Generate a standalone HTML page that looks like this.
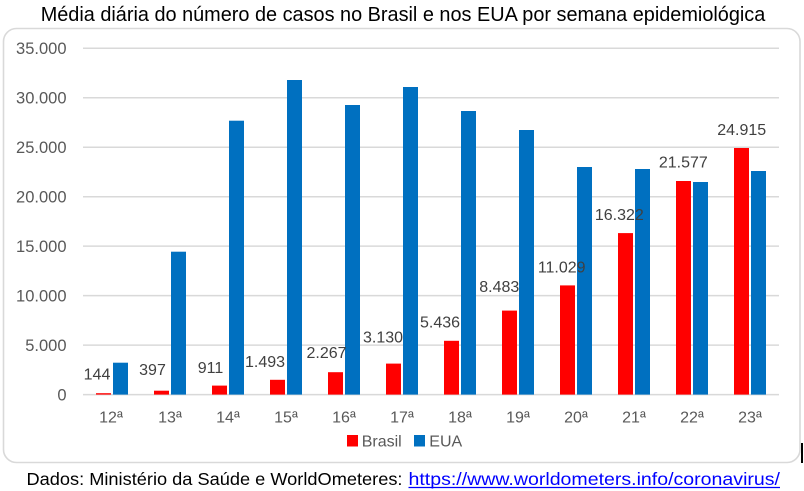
<!DOCTYPE html>
<html>
<head>
<meta charset="utf-8">
<style>
html,body{margin:0;padding:0;background:#fff;}
svg{display:block;}
text{font-family:"Liberation Sans",Arial,sans-serif;}
</style>
</head>
<body>
<svg width="804" height="491" viewBox="0 0 804 491" xmlns="http://www.w3.org/2000/svg">
<rect x="0" y="0" width="804" height="491" fill="#fff"/>
<!-- title -->
<text x="40.7" y="21" font-size="20" fill="#000" textLength="724.6" lengthAdjust="spacingAndGlyphs">Média diária do número de casos no Brasil e nos EUA por semana epidemiológica</text>
<!-- chart border -->
<rect x="3.5" y="28.5" width="796.5" height="434" rx="13" ry="13" fill="#fff" stroke="#d9d9d9" stroke-width="1.6"/>
<!-- gridlines -->
<g stroke="#d9d9d9" stroke-width="1.5">
<line x1="83" x2="779" y1="48.2" y2="48.2"/>
<line x1="83" x2="779" y1="97.7" y2="97.7"/>
<line x1="83" x2="779" y1="147.2" y2="147.2"/>
<line x1="83" x2="779" y1="196.7" y2="196.7"/>
<line x1="83" x2="779" y1="246.1" y2="246.1"/>
<line x1="83" x2="779" y1="295.6" y2="295.6"/>
<line x1="83" x2="779" y1="345.1" y2="345.1"/>
<line x1="83" x2="779" y1="394.6" y2="394.6"/>
</g>
<!-- y labels -->
<g font-size="16.5" fill="#595959" text-anchor="end">
<text x="66.5" y="54">35.000</text>
<text x="66.5" y="103.5">30.000</text>
<text x="66.5" y="153">25.000</text>
<text x="66.5" y="202.5">20.000</text>
<text x="66.5" y="251.9">15.000</text>
<text x="66.5" y="301.4">10.000</text>
<text x="66.5" y="350.9">5.000</text>
<text x="66.5" y="400.4">0</text>
</g>
<!-- Brasil bars -->
<g fill="#ff0000">
<rect x="96" y="393.2" width="15" height="1.4"/>
<rect x="154" y="390.7" width="15" height="3.9"/>
<rect x="212" y="385.6" width="15" height="9.0"/>
<rect x="270" y="379.8" width="15" height="14.8"/>
<rect x="328" y="372.2" width="15" height="22.4"/>
<rect x="386" y="363.6" width="15" height="31.0"/>
<rect x="444" y="340.8" width="15" height="53.8"/>
<rect x="502" y="310.6" width="15" height="84.0"/>
<rect x="560" y="285.4" width="15" height="109.2"/>
<rect x="618" y="233.1" width="15" height="161.5"/>
<rect x="676" y="181.0" width="15" height="213.6"/>
<rect x="734" y="148.0" width="15" height="246.6"/>
</g>
<!-- EUA bars -->
<g fill="#0070c0">
<rect x="113" y="362.7" width="15" height="31.9"/>
<rect x="171" y="251.7" width="15" height="142.9"/>
<rect x="229" y="120.7" width="15" height="273.9"/>
<rect x="287" y="80" width="15" height="314.6"/>
<rect x="345" y="105" width="15" height="289.6"/>
<rect x="403" y="87" width="15" height="307.6"/>
<rect x="461" y="111" width="15" height="283.6"/>
<rect x="519" y="130" width="15" height="264.6"/>
<rect x="577" y="167" width="15" height="227.6"/>
<rect x="635" y="169" width="15" height="225.6"/>
<rect x="693" y="182" width="15" height="212.6"/>
<rect x="751" y="171" width="15" height="223.6"/>
</g>
<!-- data labels -->
<g font-size="16" fill="#404040" text-anchor="middle">
<text x="97" y="379.3">144</text>
<text x="152.5" y="374.8">397</text>
<text x="210.5" y="372.8">911</text>
<text x="265" y="366.8">1.493</text>
<text x="326.5" y="357.8">2.267</text>
<text x="383" y="342.5">3.130</text>
<text x="440" y="327.5">5.436</text>
<text x="499.3" y="291.8">8.483</text>
<text x="561.7" y="272.5">11.029</text>
<text x="619.3" y="219.8">16.322</text>
<text x="683.3" y="167.5">21.577</text>
<text x="741.7" y="134.8">24.915</text>
</g>
<!-- x labels -->
<g font-size="16" fill="#595959" text-anchor="middle">
<text x="111" y="422.5">12ª</text>
<text x="170" y="422.5">13ª</text>
<text x="228" y="422.5">14ª</text>
<text x="286" y="422.5">15ª</text>
<text x="344" y="422.5">16ª</text>
<text x="402" y="422.5">17ª</text>
<text x="460" y="422.5">18ª</text>
<text x="518" y="422.5">19ª</text>
<text x="576" y="422.5">20ª</text>
<text x="634" y="422.5">21ª</text>
<text x="692" y="422.5">22ª</text>
<text x="750" y="422.5">23ª</text>
</g>
<!-- legend -->
<rect x="347" y="435" width="11" height="11.5" fill="#ff0000"/>
<text x="361.7" y="446.5" font-size="16" fill="#595959">Brasil</text>
<rect x="414" y="435" width="11" height="11.5" fill="#0070c0"/>
<text x="429.3" y="446.5" font-size="16" fill="#595959">EUA</text>
<!-- cursor artifact -->
<rect x="801" y="443" width="2" height="20" fill="#000"/>
<!-- footer -->
<text x="26.5" y="485" font-size="17.5" fill="#000" textLength="376" lengthAdjust="spacingAndGlyphs">Dados: Ministério da Saúde e WorldOmeteres:</text>
<text x="408.5" y="485" font-size="17.5" fill="#0000ff" textLength="371.5" lengthAdjust="spacingAndGlyphs">https://www.worldometers.info/coronavirus/</text>
<line x1="408.5" x2="780" y1="487.5" y2="487.5" stroke="#0000ff" stroke-width="1.2"/>
</svg>
</body>
</html>
